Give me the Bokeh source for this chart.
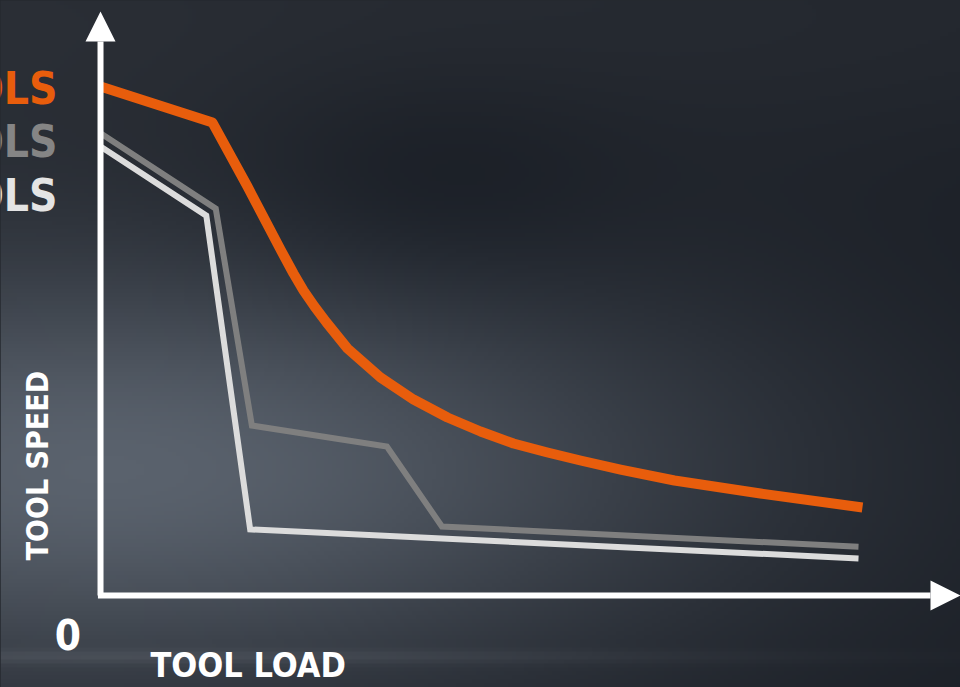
import numpy as np
from bokeh.plotting import figure
from bokeh.models import Range1d, Arrow, NormalHead, GlobalInlineStyleSheet
from bokeh.core.properties import value
from bokeh.embed import file_html
from bokeh.resources import INLINE

# ---------------- data (tool load vs tool speed, arbitrary units) ----------------
orange_load = [0, 13.02, 17.09, 20.93, 22.44, 23.60, 24.88, 26.28, 28.72, 32.56, 36.40, 40.35,
               44.19, 48.02, 51.98, 55.81, 60.47, 66.74, 76.74, 88.60]
orange_speed = [87.76, 81.55, 70.52, 59.66, 55.52, 52.59, 49.83, 47.07, 42.59, 37.59, 33.79, 30.69,
                28.28, 26.21, 24.66, 23.28, 21.72, 19.83, 17.59, 15.17]

gray_load = [0, 13.4, 17.6, 33.3, 39.7, 88.14]
gray_speed = [79.7, 66.7, 29.3, 25.7, 11.9, 8.4]

light_load = [0, 12.3, 17.4, 88.14]
light_speed = [77.4, 65.5, 11.4, 6.4]

series_labels = ["TOOLS", "TOOLS", "TOOLS"]
x_axis_label = "TOOL LOAD"
y_axis_label = "TOOL SPEED"
origin_label = "0"

# ---------------- styles ----------------
ORANGE = "#e85d0c"
GRAY_LINE = "#7f7f7f"
LIGHT_LINE = "#dcdcdc"
GRAY_TEXT = "#858585"
LIGHT_TEXT = "#e4e4e4"
FONT = "'DejaVu Sans Condensed', Roboto, 'DejaVu Sans', sans-serif"

W, H = 960, 687
X0, X1 = -11.63, 100.0
Y0, Y1 = -15.86, 102.59

p = figure(width=W, height=H, x_range=Range1d(X0, X1), y_range=Range1d(Y0, Y1),
           output_backend="svg", toolbar_location=None, min_border=0)
p.axis.visible = False
p.grid.visible = False
p.outline_line_color = None
p.background_fill_color = "#262a31"
p.border_fill_color = "#262a31"
p.stylesheets = [GlobalInlineStyleSheet(
    css="html, body { margin: 0; padding: 0; overflow: hidden; background: #24282e; }")]

# ---------------- background gradient ----------------
nx, ny = 240, 172
rx = np.linspace(0, 960, nx)[None, :]           # reference pixel x
ry = np.linspace(687, 0, ny)[:, None]           # reference pixel y (row 0 = bottom)
base = np.array([33, 37, 44], dtype=float)
light = np.exp(-0.5 * ((rx - 120) / 420) ** 2 - 0.5 * ((ry - 470) / 150) ** 2)
top = np.exp(-0.5 * ((ry - 10) / 110) ** 2)
dark = np.exp(-0.5 * ((rx - 420) / 150) ** 2 - 0.5 * ((ry - 200) / 90) ** 2)
streak = np.exp(-0.5 * ((ry - 658) / 5) ** 2) * np.exp(-0.5 * ((rx - 150) / 400) ** 2)
rightdark = rx / 960.0
img = np.zeros((ny, nx, 4), dtype=np.uint8)
amp = np.array([58, 62, 66], dtype=float)
for c in range(3):
    v = base[c] + amp[c] * light + 9 * top - 11 * dark + 14 * streak - 6 * rightdark
    img[:, :, c] = np.clip(v, 0, 255).astype(np.uint8)
img[:, :, 3] = 255
p.image_rgba(image=[img.view(dtype=np.uint32).reshape(ny, nx)], x=X0, y=Y0, dw=X1 - X0, dh=Y1 - Y0)

# ---------------- axes with arrows ----------------
p.add_layout(Arrow(x_start=0, y_start=0, x_end=0, y_end=100.7, line_color="white", line_width=6,
                   end=NormalHead(size=30, fill_color="white", line_color="white", line_width=0)))
p.add_layout(Arrow(x_start=-0.3, y_start=0, x_end=X1, y_end=0, line_color="white", line_width=6,
                   end=NormalHead(size=30, fill_color="white", line_color="white", line_width=0)))

# ---------------- series ----------------
p.line(light_load, light_speed, line_color=LIGHT_LINE, line_width=6, line_join="miter", line_cap="butt")
p.line(gray_load, gray_speed, line_color=GRAY_LINE, line_width=6, line_join="miter", line_cap="butt")
p.line(orange_load, orange_speed, line_color=ORANGE, line_width=10, line_join="round", line_cap="butt")

# ---------------- texts ----------------
label_y = [87.5, 78.3, 69.0]
label_colors = [ORANGE, GRAY_TEXT, LIGHT_TEXT]
p.text(x=[-5.0] * 3, y=label_y, text=series_labels, text_color=label_colors,
       text_font=value(FONT), text_font_style="bold", text_font_size="44px",
       text_align="right", text_baseline="alphabetic")

p.text(x=[-7.3], y=[22.4], text=[y_axis_label], angle=np.pi / 2, text_color="white",
       text_font=value(FONT), text_font_style="bold", text_font_size="30px",
       text_align="center", text_baseline="middle")

p.text(x=[-3.8], y=[-6.7], text=[origin_label], text_color="white",
       text_font=value(FONT), text_font_style="bold", text_font_size="42px",
       text_align="center", text_baseline="alphabetic")

p.text(x=[5.8], y=[-11.9], text=[x_axis_label], text_color="white",
       text_font=value(FONT), text_font_style="bold", text_font_size="34px",
       text_align="left", text_baseline="alphabetic")

open("out.html", "w").write(file_html(p, INLINE))
